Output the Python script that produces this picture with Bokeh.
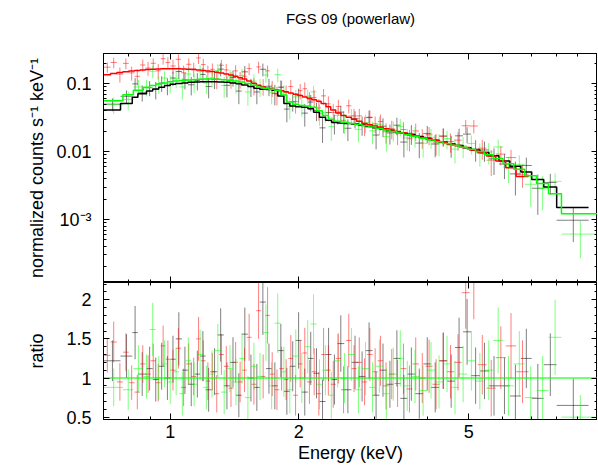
from bokeh.plotting import figure
from bokeh.models import LogAxis, LinearAxis, FixedTicker, CustomJSTickFormatter, Range1d
from bokeh.layouts import column
from bokeh.embed import file_html
from bokeh.resources import INLINE

# ---------------- data ----------------
title_text = "FGS 09 (powerlaw)"
x_label = "Energy (keV)"
y_label_top = "normalized counts s\u207b\u00b9 keV\u207b\u00b9"
y_label_bot = "ratio"

x_ticks = [1, 2, 5]
x_tick_labels = ["1", "2", "5"]
x_minor = [0.8, 0.9, 3, 4, 6, 7, 8, 9]
ytop_ticks = [0.001, 0.01, 0.1]
ytop_tick_labels = ["10\u207b\u00b3", "0.01", "0.1"]
ytop_minor = [2e-4, 3e-4, 4e-4, 5e-4, 6e-4, 7e-4, 8e-4, 9e-4,
              2e-3, 3e-3, 4e-3, 5e-3, 6e-3, 7e-3, 8e-3, 9e-3,
              0.02, 0.03, 0.04, 0.05, 0.06, 0.07, 0.08, 0.09, 0.2]
ybot_ticks = [0.5, 1.0, 1.5, 2.0]
ybot_tick_labels = ["0.5", "1", "1.5", "2"]
ybot_minor = [0.6, 0.7, 0.8, 0.9, 1.1, 1.2, 1.3, 1.4, 1.6, 1.7, 1.8, 1.9, 2.1, 2.2]

x_lim = [0.698, 10.0]
ytop_lim = [1.18e-4, 0.279]
ybot_lim = [0.47, 2.22]

# dataset 1 (black)
black_edges = [0.70, 0.765, 0.815, 0.84, 0.88, 0.91, 0.94, 0.97, 1.00, 1.03, 1.065, 1.10, 1.14, 1.175,
               1.21, 1.25, 1.29, 1.335, 1.38, 1.425, 1.47, 1.52, 1.57, 1.62, 1.675, 1.73, 1.785, 1.845,
               1.905, 1.965, 2.03, 2.10, 2.165, 2.235, 2.31, 2.385, 2.46, 2.555, 2.655, 2.76, 2.865,
               2.975, 3.09, 3.205, 3.33, 3.455, 3.59, 3.745, 3.91, 4.08, 4.26, 4.45, 4.64, 4.845, 5.06,
               5.31, 5.57, 5.88, 6.235, 6.615, 7.015, 7.485, 8.025, 9.53]
black_model = [0.041, 0.051, 0.063, 0.071, 0.078, 0.084, 0.089, 0.094, 0.098, 0.101,
               0.103, 0.105, 0.106, 0.107, 0.107, 0.107, 0.106, 0.105, 0.103, 0.100,
               0.096, 0.091, 0.086, 0.083, 0.082, 0.080, 0.066, 0.051, 0.047, 0.046,
               0.045, 0.043, 0.038, 0.032, 0.029, 0.027, 0.0265, 0.026, 0.0255, 0.0245,
               0.0235, 0.0225, 0.0215, 0.0205, 0.0196, 0.0187, 0.0177, 0.0167, 0.0157, 0.0147,
               0.0139, 0.0131, 0.0123, 0.0114, 0.0106, 0.0097, 0.0087, 0.0073, 0.0061, 0.0050,
               0.0039, 0.0030, 0.0015]
black_ratio = [1.22, 1.28, 1.58, 1.05, 1.12, 0.98, 1.15, 1.00, 1.24, 1.50,
               1.10, 0.92, 1.05, 1.28, 0.85, 1.08, 1.55, 0.90, 1.20, 0.78,
               1.56, 1.00, 0.88, 1.97, 1.12, 0.90, 1.35, 0.83, 1.15, 1.48,
               0.82, 1.25, 1.06, 0.70, 1.30, 0.98, 1.44, 0.85, 1.20, 1.02,
               1.35, 0.78, 1.10, 0.92, 1.25, 0.74, 1.05, 0.80, 1.18, 0.88,
               1.22, 0.96, 1.39, 1.59, 1.03, 1.09, 0.90, 0.90, 0.77, 1.25,
               0.74, 1.17, 0.65]
black_rerr = [0.26, 0.28, 0.34, 0.28, 0.28, 0.28, 0.30, 0.28, 0.30, 0.34,
              0.30, 0.28, 0.30, 0.32, 0.28, 0.30, 0.34, 0.30, 0.32, 0.28,
              0.34, 0.30, 0.30, 0.42, 0.32, 0.30, 0.34, 0.30, 0.32, 0.36,
              0.30, 0.34, 0.32, 0.28, 0.34, 0.32, 0.36, 0.30, 0.34, 0.32,
              0.36, 0.30, 0.34, 0.30, 0.36, 0.30, 0.34, 0.32, 0.34, 0.32,
              0.36, 0.34, 0.38, 0.42, 0.36, 0.36, 0.38, 0.36, 0.40, 0.38,
              0.44, 0.40, 0.34]

# dataset 2 (red)
red_edges = [0.70, 0.725, 0.75, 0.775, 0.80, 0.825, 0.85, 0.875, 0.90, 0.925, 0.95, 0.975, 1.00,
             1.03, 1.06, 1.09, 1.12, 1.15, 1.18, 1.21, 1.24, 1.27, 1.30, 1.335, 1.37, 1.405, 1.44,
             1.475, 1.51, 1.55, 1.59, 1.63, 1.67, 1.71, 1.755, 1.80, 1.845, 1.89, 1.94, 1.99, 2.04,
             2.09, 2.145, 2.20, 2.255, 2.315, 2.375, 2.44, 2.51, 2.58, 2.655, 2.73, 2.81, 2.89,
             2.975, 3.06, 3.15, 3.25, 3.35, 3.46, 3.57, 3.69, 3.82, 3.96, 4.11, 4.27, 4.44, 4.62,
             4.81, 5.02, 5.25, 5.50, 5.78, 6.10, 6.45, 6.90]
red_model = [0.136, 0.141, 0.146, 0.150, 0.154, 0.157, 0.160, 0.162, 0.164, 0.165,
             0.166, 0.166, 0.166, 0.166, 0.165, 0.164, 0.162, 0.160, 0.157, 0.154,
             0.151, 0.148, 0.144, 0.139, 0.134, 0.129, 0.123, 0.117, 0.110, 0.102,
             0.095, 0.090, 0.086, 0.083, 0.081, 0.079, 0.076, 0.073, 0.070, 0.067,
             0.064, 0.061, 0.058, 0.055, 0.051, 0.046, 0.041, 0.037, 0.034, 0.032,
             0.030, 0.028, 0.026, 0.0248, 0.0238, 0.0228, 0.0218, 0.0208, 0.0198, 0.0189,
             0.0180, 0.0171, 0.0162, 0.0154, 0.0146, 0.0138, 0.0130, 0.0123, 0.0115, 0.0106,
             0.0096, 0.0086, 0.0073, 0.0058, 0.0043]
red_ratio = [1.29, 1.46, 0.95, 1.33, 0.94, 0.82, 1.18, 1.05, 1.22, 0.94,
             1.41, 1.24, 1.10, 1.38, 0.88, 1.18, 1.02, 1.50, 1.22, 0.96,
             1.08, 0.80, 1.30, 1.15, 0.87, 1.20, 0.95, 1.10, 1.52, 0.92,
             1.86, 1.02, 1.80, 1.05, 0.85, 1.12, 0.98, 1.25, 0.78, 1.18,
             1.32, 0.95, 1.08, 0.80, 1.30, 1.10, 0.92, 1.25, 0.85, 1.48,
             1.12, 1.20, 0.95, 1.30, 1.08, 1.22, 0.90, 1.05, 0.93, 1.12,
             0.86, 1.18, 1.00, 1.15, 0.92, 1.22, 1.08, 1.20, 2.09, 2.25,
             1.17, 0.87, 1.26, 1.41, 1.08]
red_rerr = [0.22, 0.26, 0.24, 0.24, 0.22, 0.22, 0.24, 0.24, 0.22, 0.24,
            0.26, 0.24, 0.26, 0.26, 0.24, 0.26, 0.24, 0.28, 0.26, 0.24,
            0.24, 0.24, 0.26, 0.26, 0.24, 0.26, 0.26, 0.28, 0.30, 0.26,
            0.36, 0.28, 0.36, 0.28, 0.26, 0.28, 0.26, 0.30, 0.26, 0.30,
            0.32, 0.28, 0.30, 0.28, 0.34, 0.32, 0.30, 0.32, 0.30, 0.34,
            0.30, 0.32, 0.30, 0.34, 0.30, 0.32, 0.30, 0.32, 0.30, 0.32,
            0.30, 0.34, 0.32, 0.34, 0.32, 0.36, 0.34, 0.36, 0.46, 0.50,
            0.38, 0.36, 0.40, 0.42, 0.40]

# dataset 3 (green)
green_edges = [0.70, 0.775, 0.82, 0.865, 0.895, 0.925, 0.955, 0.985, 1.015, 1.05, 1.085, 1.12, 1.155,
               1.195, 1.235, 1.27, 1.315, 1.36, 1.40, 1.45, 1.495, 1.545, 1.595, 1.65, 1.70, 1.755,
               1.815, 1.875, 1.935, 2.00, 2.065, 2.13, 2.20, 2.27, 2.345, 2.42, 2.51, 2.605, 2.705,
               2.81, 2.92, 3.03, 3.145, 3.265, 3.39, 3.52, 3.655, 3.825, 3.99, 4.165, 4.35, 4.54,
               4.74, 4.955, 5.18, 5.43, 5.70, 6.01, 6.37, 6.755, 7.20, 7.68, 8.235, 10.0]
green_model = [0.056, 0.069, 0.080, 0.088, 0.094, 0.099, 0.103, 0.107, 0.110, 0.112,
               0.114, 0.115, 0.116, 0.117, 0.117, 0.116, 0.115, 0.113, 0.110, 0.106,
               0.101, 0.095, 0.089, 0.085, 0.083, 0.080, 0.068, 0.054, 0.050, 0.048,
               0.047, 0.045, 0.040, 0.034, 0.030, 0.028, 0.027, 0.026, 0.025, 0.024,
               0.023, 0.0219, 0.0208, 0.0198, 0.0188, 0.0178, 0.0168, 0.0158, 0.0148, 0.0140,
               0.0132, 0.0124, 0.0116, 0.0108, 0.0100, 0.0090, 0.0079, 0.0066, 0.0055, 0.0044,
               0.0034, 0.0024, 0.00122]
green_ratio = [0.88, 0.85, 1.12, 1.02, 1.62, 1.00, 1.18, 0.95, 1.08, 0.80,
               1.22, 0.92, 1.30, 0.88, 1.05, 1.35, 0.82, 1.12, 0.95, 1.25,
               0.75, 1.15, 1.02, 1.58, 0.90, 1.70, 1.08, 0.85, 1.28, 1.00,
               1.40, 1.69, 0.92, 1.10, 0.78, 1.22, 1.00, 1.30, 0.85, 1.12,
               0.88, 1.15, 0.80, 1.05, 1.25, 0.90, 1.02, 0.84, 1.10, 0.95,
               1.18, 0.88, 1.05, 1.22, 0.96, 1.10, 1.48, 0.90, 1.18, 0.75,
               0.84, 1.52, 0.50]
green_rerr = [0.24, 0.26, 0.30, 0.28, 0.34, 0.28, 0.30, 0.28, 0.30, 0.28,
              0.30, 0.28, 0.32, 0.28, 0.30, 0.34, 0.28, 0.30, 0.30, 0.32,
              0.28, 0.30, 0.30, 0.36, 0.30, 0.38, 0.32, 0.30, 0.34, 0.32,
              0.34, 0.38, 0.32, 0.32, 0.30, 0.34, 0.32, 0.34, 0.30, 0.34,
              0.32, 0.34, 0.32, 0.34, 0.36, 0.32, 0.34, 0.32, 0.36, 0.34,
              0.36, 0.34, 0.36, 0.38, 0.36, 0.38, 0.42, 0.38, 0.42, 0.40,
              0.44, 0.48, 0.28]

datasets = [
    ("black", black_edges, black_model, black_ratio, black_rerr),
    ("#ff0000", red_edges, red_model, red_ratio, red_rerr),
    ("#00ff00", green_edges, green_model, green_ratio, green_rerr),
]

# ---------------- styling helpers ----------------
FONT = "Liberation Sans"
LABEL_SIZE = "18px"
TICK_SIZE = "18px"


def labels_formatter(vals, labs):
    return CustomJSTickFormatter(args=dict(vals=vals, labs=labs), code="""
        let best = 0, bd = Infinity;
        for (let i = 0; i < vals.length; i++) {
            const d = Math.abs(Math.log(tick) - Math.log(vals[i]));
            if (d < bd) { bd = d; best = i; }
        }
        return labs[best];
    """)


def blank():
    return CustomJSTickFormatter(code="return '';")


def style_axis(ax, show_labels=True):
    ax.major_tick_in = 6
    ax.major_tick_out = 0
    ax.minor_tick_in = 3
    ax.minor_tick_out = 0
    ax.axis_line_color = "black"
    ax.major_tick_line_color = "black"
    ax.minor_tick_line_color = "black"
    ax.major_label_text_font = FONT
    ax.major_label_text_font_size = TICK_SIZE
    ax.major_label_text_color = "black"
    ax.axis_label_text_font = FONT
    ax.axis_label_text_font_size = LABEL_SIZE
    ax.axis_label_text_font_style = "normal"
    ax.axis_label_text_color = "black"
    if not show_labels:
        ax.major_label_standoff = 0


x_range = Range1d(*x_lim)
xticker = FixedTicker(ticks=x_ticks, minor_ticks=x_minor)
ytop_ticker = FixedTicker(ticks=ytop_ticks, minor_ticks=ytop_minor)
ybot_ticker = FixedTicker(ticks=ybot_ticks, minor_ticks=ybot_minor)

W = 597
top = figure(width=W, height=282, x_axis_type="log", y_axis_type="log",
             x_range=x_range, y_range=Range1d(*ytop_lim),
             output_backend="svg", toolbar_location=None,
             min_border_left=103, min_border_right=0, min_border_top=53, min_border_bottom=0)
bot = figure(width=W, height=185, x_axis_type="log",
             x_range=x_range, y_range=Range1d(*ybot_lim),
             output_backend="svg", toolbar_location=None,
             min_border_left=103, min_border_right=0, min_border_top=0, min_border_bottom=48)

for f in (top, bot):
    f.grid.visible = False
    f.outline_line_color = "black"
    f.background_fill_color = "white"
    f.border_fill_color = "white"

# top panel axes
ax = top.xaxis[0]
ax.ticker = xticker
ax.formatter = blank()
style_axis(ax, False)
ax = top.yaxis[0]
ax.ticker = ytop_ticker
ax.formatter = labels_formatter(ytop_ticks, ytop_tick_labels)
ax.axis_label = y_label_top
ax.major_label_standoff = 12
ax.axis_label_standoff = 6
style_axis(ax)
# mirrored top axis; its label carries the plot title (centred over the frame)
a = LogAxis(ticker=xticker, formatter=blank())
style_axis(a, False)
a.axis_label = title_text
a.axis_label_text_font_size = "15px"
a.axis_label_standoff = 27
top.add_layout(a, "above")
a = LogAxis(ticker=ytop_ticker, formatter=blank())
style_axis(a, False)
top.add_layout(a, "right")

# bottom panel axes
ax = bot.xaxis[0]
ax.ticker = xticker
ax.formatter = labels_formatter(x_ticks, x_tick_labels)
ax.axis_label = x_label
ax.major_label_standoff = 5
ax.axis_label_standoff = 2
style_axis(ax)
ax = bot.yaxis[0]
ax.ticker = ybot_ticker
ax.formatter = labels_formatter(ybot_ticks, ybot_tick_labels)
ax.axis_label = y_label_bot
ax.major_label_standoff = 12
ax.axis_label_standoff = 16
style_axis(ax)
a = LogAxis(ticker=xticker, formatter=blank())
style_axis(a, False)
bot.add_layout(a, "above")
a = LinearAxis(ticker=ybot_ticker, formatter=blank())
style_axis(a, False)
bot.add_layout(a, "right")


def step_path(edges, vals):
    xs, ys = [], []
    for i, v in enumerate(vals):
        xs += [edges[i], edges[i + 1]]
        ys += [v, v]
    return xs, ys


# data crosses
for color, edges, model, ratio, rerr in datasets:
    lo = edges[:-1]
    hi = edges[1:]
    mid = [(a + b) / 2 for a, b in zip(lo, hi)]
    counts = [m * r for m, r in zip(model, ratio)]
    cerr = [m * e for m, e in zip(model, rerr)]
    top.segment(lo, counts, hi, counts, line_color=color, line_alpha=0.5, line_width=1)
    top.segment(mid, [c - e for c, e in zip(counts, cerr)], mid, [c + e for c, e in zip(counts, cerr)],
                line_color=color, line_alpha=0.5, line_width=1)
    bot.segment(lo, ratio, hi, ratio, line_color=color, line_alpha=0.5, line_width=1)
    bot.segment(mid, [r - e for r, e in zip(ratio, rerr)], mid, [r + e for r, e in zip(ratio, rerr)],
                line_color=color, line_alpha=0.5, line_width=1)

# model lines (top) and model/model unity line (bottom, last dataset drawn on top as in xspec)
for color, edges, model, ratio, rerr in datasets:
    xs, ys = step_path(edges, model)
    top.line(xs, ys, line_color=color, line_width=1.5)
color, edges, model, ratio, rerr = datasets[-1]
xs2, ys2 = step_path(edges, [m / m for m in model])
bot.line(xs2, ys2, line_color=color, line_width=2, line_alpha=0.55)

layout = column(top, bot, spacing=0)
open("out.html", "w").write(file_html(layout, INLINE))
